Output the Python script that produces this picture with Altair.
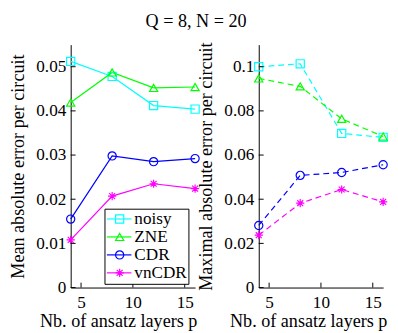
import altair as alt
import pandas as pd

methods = ["noisy", "ZNE", "CDR", "vnCDR"]
layers_p = [4, 8, 12, 16]
mean_noisy = [0.0512, 0.0478, 0.0412, 0.0404]
mean_zne = [0.0419, 0.0487, 0.0452, 0.0454]
mean_cdr = [0.0155, 0.0298, 0.0285, 0.0292]
mean_vncdr = [0.0108, 0.0207, 0.0235, 0.0224]
max_noisy = [0.1000, 0.1013, 0.0698, 0.0680]
max_zne = [0.0947, 0.0911, 0.0764, 0.0684]
max_cdr = [0.0281, 0.0508, 0.0521, 0.0556]
max_vncdr = [0.0237, 0.0382, 0.0444, 0.0388]
mean_ticks = [0, 0.01, 0.02, 0.03, 0.04, 0.05]
max_ticks = [0, 0.02, 0.04, 0.06, 0.08, 0.1]
x_ticks = [5, 10, 15]
colors = ["#00FFFF", "#00FF00", "#0000FF", "#FF00FF"]

W, H = 127, 248
FONT = "Liberation Serif"
LABEL_SIZE = 17.5
TITLE_SIZE = 18.5
ASTERISK = "M-1,0L1,0M0,-1L0,1M-0.72,-0.72L0.72,0.72M-0.72,0.72L0.72,-0.72"
color_scale = alt.Scale(domain=methods, range=colors)
shape_scale = alt.Scale(domain=methods, range=["square", "triangle-up", "circle", ASTERISK])


def panel(series, ymax, yticks, ytitle, dash, with_legend, xshift):
    df = pd.DataFrame(
        [{"p": p, "value": v, "method": m}
         for m, vals in zip(methods, series) for p, v in zip(layers_p, vals)]
    )
    x = alt.X("p:Q", scale=alt.Scale(domain=[4, 16], nice=False, zero=False),
              axis=alt.Axis(values=x_ticks, tickSize=0, title="Nb. of ansatz layers p",
                            titleX=W / 2 + xshift, labelPadding=6, titlePadding=1))
    y = alt.Y("value:Q", scale=alt.Scale(domain=[0, ymax], nice=False),
              axis=alt.Axis(values=yticks, tickSize=0, title=ytitle, labelPadding=5,
                            titlePadding=9, format="~g"))
    color = alt.Color("method:N", scale=color_scale, legend=None)
    shape = alt.Shape("method:N", scale=shape_scale, legend=None)
    lk = dict(strokeWidth=1.2)
    if dash:
        lk["strokeDash"] = [6, 4]
    lines = alt.Chart(df).mark_line(**lk).encode(x=x, y=y, color=color, detail="method:N")
    points = alt.Chart(df).mark_point(filled=False, size=70, strokeWidth=1.2, opacity=1).encode(
        x=x, y=y, color=color, shape=shape)
    yt = alt.Chart(pd.DataFrame({"value": yticks})).mark_rule(color="black", strokeWidth=1).encode(
        y=y, x=alt.value(0), x2=alt.value(5))
    xt = alt.Chart(pd.DataFrame({"p": x_ticks})).mark_rule(color="black", strokeWidth=1).encode(
        x=x, y=alt.value(H), y2=alt.value(H - 5))
    main = alt.layer(lines, points, yt, xt)
    if not with_legend:
        return main.properties(width=W, height=H)
    ld = pd.DataFrame({"method": methods})
    ly = alt.Y("method:N", scale=alt.Scale(type="point", domain=methods, range=[178, 233], padding=0),
               axis=None)
    box = alt.Chart(pd.DataFrame({"a": [0]})).mark_rect(fill="white", stroke="black", strokeWidth=1).encode(
        x=alt.value(35), x2=alt.value(120.7), y=alt.value(168), y2=alt.value(244.7))
    lrule = alt.Chart(ld).mark_rule(strokeWidth=1.2).encode(
        x=alt.value(37), x2=alt.value(62), y=ly, color=color)
    lpt = alt.Chart(ld).mark_point(filled=False, size=70, strokeWidth=1.2, opacity=1).encode(
        x=alt.value(50), y=ly, color=color, shape=shape)
    ltxt = alt.Chart(ld).mark_text(align="left", baseline="middle", font=FONT, fontSize=LABEL_SIZE,
                                   color="black").encode(x=alt.value(65), y=ly, text="method:N")
    leg = alt.layer(box, lrule, lpt, ltxt)
    return alt.layer(main, leg).resolve_scale(y="independent").properties(width=W, height=H)


left = panel([mean_noisy, mean_zne, mean_cdr, mean_vncdr], 0.055, mean_ticks,
             "Mean absolute error per circuit", False, True, -15)
right = panel([max_noisy, max_zne, max_cdr, max_vncdr], 0.11, max_ticks,
              "Maximal absolute error per circuit", True, False, -13)

chart = alt.hconcat(left, right, spacing=65, bounds="flush").properties(
    title=alt.TitleParams("Q = 8, N = 20", font=FONT, fontSize=TITLE_SIZE, fontWeight="normal",
                          offset=12, anchor="middle", color="black", dx=-3),
    padding=0,
).configure_view(stroke=None).configure_axis(
    domainColor="black", domainWidth=1, labelFont=FONT, titleFont=FONT, labelFontSize=LABEL_SIZE,
    titleFontSize=TITLE_SIZE, titleFontWeight="normal", labelColor="black", titleColor="black",
    grid=False
)

chart.save("out.html", embed_options={"renderer": "svg", "actions": False})
